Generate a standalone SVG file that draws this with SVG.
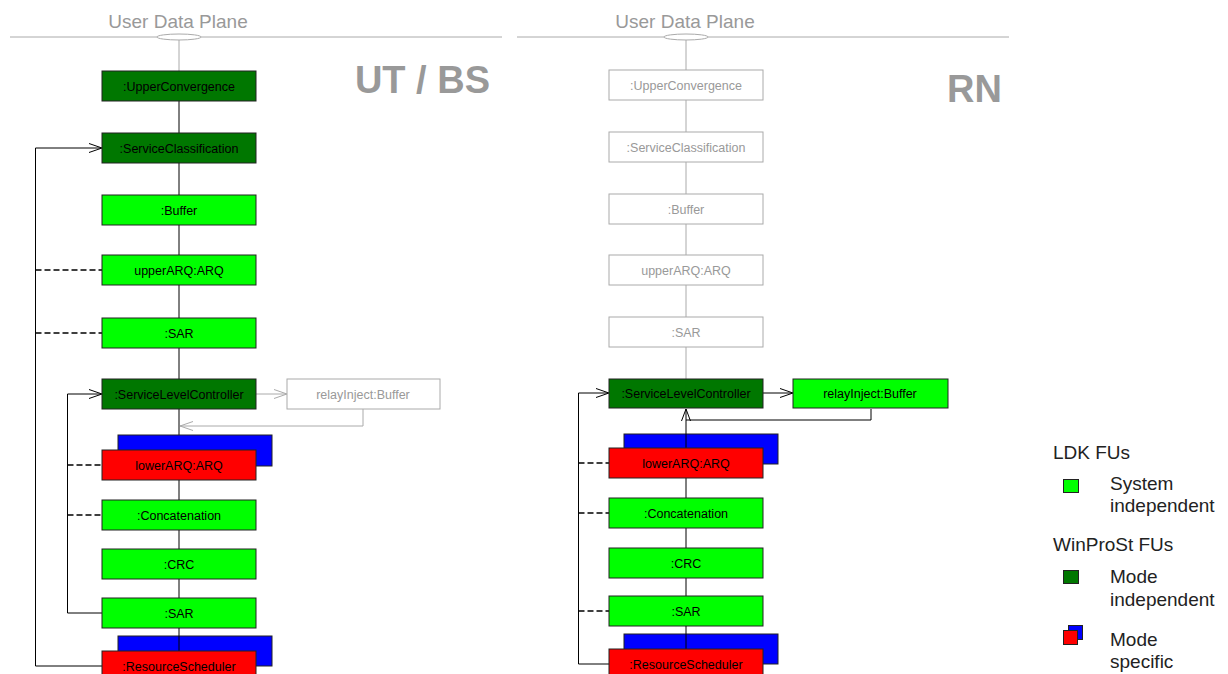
<svg xmlns="http://www.w3.org/2000/svg" width="1228" height="674" viewBox="0 0 1228 674">
<style>
text{font-family:"Liberation Sans",Arial,sans-serif}
.t{font-size:12.5px;text-anchor:middle;fill:#000}
.tg{font-size:12.5px;text-anchor:middle;fill:#999}
.dg{fill:#007700;stroke:#222;stroke-width:1}
.lg{fill:#00ff00;stroke:#222;stroke-width:1}
.rd{fill:#ff0000;stroke:#222;stroke-width:1}
.bl{fill:#0000ff;stroke:#222;stroke-width:1}
.gb{fill:#fff;stroke:#aaa;stroke-width:1}
.ln{stroke:#000;stroke-width:1;fill:none}
.lngr{stroke:#aaa;stroke-width:1;fill:none}
.ds{stroke:#000;stroke-width:1.5;stroke-dasharray:6,3;fill:none}
.title{font-size:19px;fill:#999;text-anchor:middle}
.big{font-size:38px;font-weight:bold;fill:#999;text-anchor:end}
.leg{font-size:19px;fill:#222}
</style>

<g id="planes">
<line class="lngr" x1="10" y1="37" x2="502" y2="37"/>
<line class="lngr" x1="517" y1="37" x2="1009" y2="37"/>
<ellipse cx="179" cy="37" rx="22" ry="3" fill="#fff" stroke="#aaa"/>
<ellipse cx="686" cy="37" rx="22" ry="3" fill="#fff" stroke="#aaa"/>
<text class="title" x="178" y="28">User Data Plane</text>
<text class="title" x="685" y="28">User Data Plane</text>
<text class="big" x="490" y="93">UT / BS</text>
<text class="big" x="1002" y="102">RN</text>
</g>

<g id="connectors">
<line class="lngr" x1="179" y1="40" x2="179" y2="71"/>
<line class="ln" x1="179" y1="101" x2="179" y2="133"/>
<line class="ln" x1="179" y1="163" x2="179" y2="195"/>
<line class="ln" x1="179" y1="225" x2="179" y2="255"/>
<line class="ln" x1="179" y1="285" x2="179" y2="318"/>
<line class="ln" x1="179" y1="348" x2="179" y2="379"/>
<line class="ln" x1="179" y1="409" x2="179" y2="435"/>
<line class="ln" x1="179" y1="480" x2="179" y2="500"/>
<line class="ln" x1="179" y1="530" x2="179" y2="549"/>
<line class="ln" x1="179" y1="579" x2="179" y2="598"/>
<line class="lngr" x1="256" y1="394" x2="286" y2="394"/>
<polyline class="lngr" points="274,389.5 287,394 274,398.5"/>
<polyline class="lngr" points="363,409 363,426 180,426"/>
<polyline class="lngr" points="193,421.5 180,426 193,430.5"/>
<polyline class="ln" points="102,666 35.5,666 35.5,148 101,148"/>
<polyline class="ln" points="89,143.5 102,148 89,152.5"/>
<polyline class="ln" points="102,613 67.5,613 67.5,394 101,394"/>
<polyline class="ln" points="89,389.5 102,394 89,398.5"/>
<line class="ds" x1="35.5" y1="270" x2="102" y2="270"/>
<line class="ds" x1="35.5" y1="333" x2="102" y2="333"/>
<line class="ds" x1="67.5" y1="465" x2="102" y2="465"/>
<line class="ds" x1="67.5" y1="515" x2="102" y2="515"/>

<line class="lngr" x1="686" y1="40" x2="686" y2="70"/>
<line class="lngr" x1="686" y1="100" x2="686" y2="132"/>
<line class="lngr" x1="686" y1="162" x2="686" y2="194"/>
<line class="lngr" x1="686" y1="224" x2="686" y2="255"/>
<line class="lngr" x1="686" y1="285" x2="686" y2="317"/>
<line class="lngr" x1="686" y1="347" x2="686" y2="379"/>
<line class="ln" x1="686" y1="478" x2="686" y2="498"/>
<line class="ln" x1="686" y1="528" x2="686" y2="548"/>
<line class="ln" x1="686" y1="578" x2="686" y2="596"/>
<line class="ln" x1="763" y1="393" x2="792" y2="393"/>
<polyline class="ln" points="780,388.5 793,393 780,397.5"/>
<polyline class="ln" points="871,409 871,420 686,420"/>
<polyline class="ln" points="609,664 578.5,664 578.5,393 608,393"/>
<polyline class="ln" points="596,388.5 609,393 596,397.5"/>
<line class="ds" x1="578.5" y1="463" x2="609" y2="463"/>
<line class="ds" x1="578.5" y1="513" x2="609" y2="513"/>
<line class="ds" x1="578.5" y1="611" x2="609" y2="611"/>
</g>

<g id="left-upperconvergence"><rect class="dg" x="102" y="71" width="154" height="30"/><text class="t" x="179" y="90.5">:UpperConvergence</text></g>
<g id="left-serviceclassification"><rect class="dg" x="102" y="133" width="154" height="30"/><text class="t" x="179" y="152.5">:ServiceClassification</text></g>
<g id="left-buffer"><rect class="lg" x="102" y="195" width="154" height="30"/><text class="t" x="179" y="214.5">:Buffer</text></g>
<g id="left-upperarq"><rect class="lg" x="102" y="255" width="154" height="30"/><text class="t" x="179" y="274.5">upperARQ:ARQ</text></g>
<g id="left-sar1"><rect class="lg" x="102" y="318" width="154" height="30"/><text class="t" x="179" y="337.5">:SAR</text></g>
<g id="left-slc"><rect class="dg" x="102" y="379" width="154" height="30"/><text class="t" x="179" y="398.5">:ServiceLevelController</text></g>
<g id="left-relayinject"><rect class="gb" x="287" y="379" width="153" height="30"/><text class="tg" x="363" y="398.5">relayInject:Buffer</text></g>
<g id="left-lowerarq"><rect class="bl" x="118" y="435" width="154" height="31"/><rect class="rd" x="102" y="450" width="154" height="30"/><text class="t" x="179" y="469.5">lowerARQ:ARQ</text></g>
<g id="left-concatenation"><rect class="lg" x="102" y="500" width="154" height="30"/><text class="t" x="179" y="519.5">:Concatenation</text></g>
<g id="left-crc"><rect class="lg" x="102" y="549" width="154" height="30"/><text class="t" x="179" y="568.5">:CRC</text></g>
<g id="left-sar2"><rect class="lg" x="102" y="598" width="154" height="30"/><text class="t" x="179" y="617.5">:SAR</text></g>
<g id="left-resourcescheduler"><rect class="bl" x="118" y="636" width="154" height="30"/><line class="ln" x1="179" y1="628" x2="179" y2="651"/><rect class="rd" x="102" y="651" width="154" height="30"/><text class="t" x="179" y="670.5">:ResourceScheduler</text></g>

<g id="right-upperconvergence"><rect class="gb" x="609" y="70" width="154" height="30"/><text class="tg" x="686" y="89.5">:UpperConvergence</text></g>
<g id="right-serviceclassification"><rect class="gb" x="609" y="132" width="154" height="30"/><text class="tg" x="686" y="151.5">:ServiceClassification</text></g>
<g id="right-buffer"><rect class="gb" x="609" y="194" width="154" height="30"/><text class="tg" x="686" y="213.5">:Buffer</text></g>
<g id="right-upperarq"><rect class="gb" x="609" y="255" width="154" height="30"/><text class="tg" x="686" y="274.5">upperARQ:ARQ</text></g>
<g id="right-sar1"><rect class="gb" x="609" y="317" width="154" height="30"/><text class="tg" x="686" y="336.5">:SAR</text></g>
<g id="right-slc"><rect class="dg" x="609" y="379" width="154" height="29"/><text class="t" x="686" y="397.5">:ServiceLevelController</text></g>
<g id="right-relayinject"><rect class="lg" x="793" y="379" width="155" height="29"/><text class="t" x="870" y="397.5">relayInject:Buffer</text></g>
<g id="right-lowerarq"><rect class="bl" x="624" y="434" width="154" height="30"/><line class="ln" x1="686" y1="409" x2="686" y2="448"/><polyline class="ln" points="681.5,421 686,409 690.5,421"/><rect class="rd" x="609" y="448" width="154" height="30"/><text class="t" x="686" y="467.5">lowerARQ:ARQ</text></g>
<g id="right-concatenation"><rect class="lg" x="609" y="498" width="154" height="30"/><text class="t" x="686" y="517.5">:Concatenation</text></g>
<g id="right-crc"><rect class="lg" x="609" y="548" width="154" height="30"/><text class="t" x="686" y="567.5">:CRC</text></g>
<g id="right-sar2"><rect class="lg" x="609" y="596" width="154" height="30"/><text class="t" x="686" y="615.5">:SAR</text></g>
<g id="right-resourcescheduler"><rect class="bl" x="624" y="634" width="154" height="30"/><line class="ln" x1="686" y1="626" x2="686" y2="649"/><rect class="rd" x="609" y="649" width="154" height="30"/><text class="t" x="686" y="668.5">:ResourceScheduler</text></g>

<g id="legend">
<text class="leg" x="1053" y="459">LDK FUs</text>
<rect class="lg" x="1063.5" y="479.5" width="15" height="13"/>
<text class="leg" x="1110" y="490">System</text>
<text class="leg" x="1110" y="512">independent</text>
<text class="leg" x="1053" y="551">WinProSt FUs</text>
<rect class="dg" x="1063.5" y="570.5" width="15" height="13"/>
<text class="leg" x="1110" y="583">Mode</text>
<text class="leg" x="1110" y="606">independent</text>
<rect class="bl" x="1068.5" y="625.5" width="14" height="14"/>
<rect class="rd" x="1063.5" y="630.5" width="14" height="14"/>
<text class="leg" x="1110" y="646">Mode</text>
<text class="leg" x="1110" y="668">specific</text>
</g>
</svg>
